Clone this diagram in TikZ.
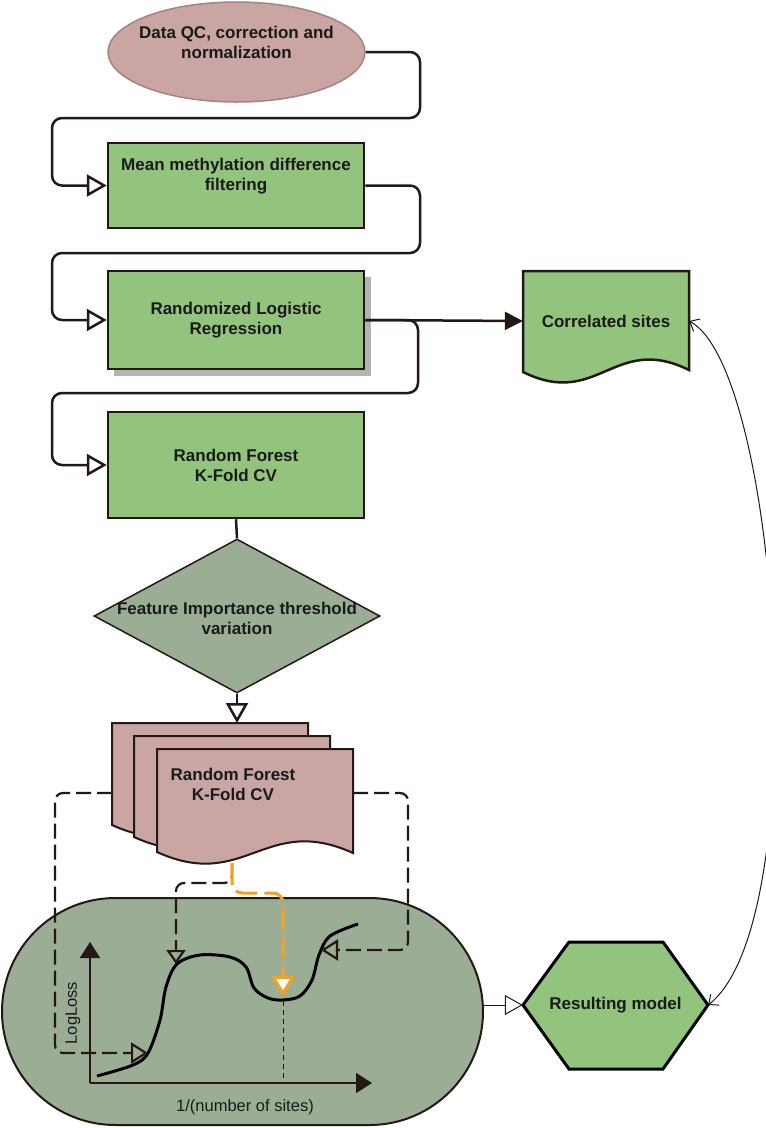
\documentclass[tikz,border=0pt]{standalone}
\usepackage{fontspec}
\setmainfont{Liberation Sans}
\usetikzlibrary{arrows.meta,shapes.geometric,shapes.misc}
\definecolor{lc}{HTML}{231815}
\definecolor{gfill}{HTML}{92C47D}
\definecolor{pfill}{HTML}{C9A5A3}
\definecolor{pline}{HTML}{A88280}
\definecolor{sfill}{HTML}{9CAD96}
\definecolor{orng}{HTML}{F5A01E}
\definecolor{shad}{HTML}{B4B4B4}
\definecolor{txt}{HTML}{1A1A1A}
\begin{document}
\begin{tikzpicture}[x=1pt,y=-1pt,
  lbl/.style={font=\fontsize{17}{20}\selectfont\bfseries, text=txt, align=center, inner sep=0pt},
  box/.style={lbl, draw=lc, line width=2.5pt, fill=gfill, rectangle, minimum width=256pt},
  conn/.style={draw=lc, line width=2.5pt, rounded corners=10pt, -{Triangle[open,length=20pt,width=22pt]}},
  docshape/.style={draw=lc, line width=2pt, fill=pfill},
  dashk/.style={draw=lc, line width=2.2pt, dash pattern=on 15pt off 6pt, rounded corners=8pt, -{Triangle[open,length=17pt,width=21pt]}},
  dasho/.style={draw=orng, line width=3pt, dash pattern=on 22pt off 7pt, rounded corners=10pt, -{Triangle[open,fill=white,length=20pt,width=24pt]}},
  axisline/.style={draw=lc, line width=2pt, -{Triangle[length=16pt,width=20pt]}},
  plain/.style={font=\fontsize{16.5}{18}\selectfont, text=txt, inner sep=0pt}
]
\useasboundingbox (0,0) rectangle (766,1128);

% ---- top ellipse
\node[ellipse, draw=pline, line width=1.5pt, fill=pfill, minimum width=257pt, minimum height=100pt, inner sep=0pt] (dqc) at (236.5,52) {};
\node[lbl] (dqct) at (236.5,42) {Data QC, correction and\\normalization};

% ---- boxes
\node[box, minimum height=85pt] (mmd) at (236,185.5) {};
\node[lbl] (mmdt) at (236,176) {Mean methylation difference\\filtering};

\fill[shad] (114,277) rectangle (371,376);
\node[box, minimum height=98pt] (rlr) at (236,320) {Randomized Logistic\\Regression};

\node[box, minimum height=106pt] (rf) at (236,465) {Random Forest\\K-Fold CV};

% ---- correlated sites (document)
\path[docshape, line width=2.5pt, fill=gfill] (523,271) -- (689,271) -- (689,370) .. controls (614,333) and (598,409) .. (523,372) -- cycle;
\node[lbl, minimum width=166pt, minimum height=100pt] (corr) at (606,321) {Correlated sites};

% ---- connectors on top part
\draw[conn] (dqc.east) -- (420,52) -- (420,118) -- (52,118) -- (52,185.5) -- (mmd.west);
\draw[conn] (mmd.east) -- (420,185.5) -- (420,253) -- (52,253) -- (52,320) -- (rlr.west);
\draw[conn] (rlr.east) -- (418,320) -- (418,393) -- (52,393) -- (52,465) -- (rf.west);
\draw[draw=lc, line width=2.5pt, -{Triangle[length=18pt,width=18pt]}] (rlr.east) -- (corr.west);

% ---- diamond
\node[diamond, draw=lc, line width=1.5pt, fill=sfill, minimum width=286pt, minimum height=154pt, inner sep=0pt] (fiv) at (237,616) {};
\node[lbl] (fivt) at (237,618) {Feature Importance threshold\\variation};
\draw[draw=lc, line width=2.5pt] (rf.south) -- (fiv.north);

% ---- stadium
\node[rounded rectangle, draw=lc, line width=2pt, fill=sfill, minimum width=481pt, minimum height=227pt, inner sep=0pt] (stad) at (242.5,1011.5) {};

% ---- stacked documents
\coordinate (dtop) at (237,723);
\path[docshape] (112,723) -- (308,723) -- (308,826) .. controls (220,786) and (200,865) .. (112,825) -- cycle;
\path[docshape] (134,736) -- (330,736) -- (330,838) .. controls (242,798) and (222,877) .. (134,837) -- cycle;
\path[docshape] (157,749) -- (353,749) -- (353,853) .. controls (265,813) and (245,892) .. (157,852) -- cycle;
\node[lbl] (rft) at (233,784) {Random Forest\\K-Fold CV};
\draw[conn] (fiv.south) -- (dtop);

\coordinate (bdl) at (112,793);
\coordinate (fdr) at (353,793);
\coordinate (fdb) at (232,863);

% ---- graph inside the stadium
\coordinate (org) at (90,1083);
\coordinate (t1) at (148,1053);
\coordinate (t2) at (176,964);
\coordinate (t3) at (283,996);
\coordinate (t4) at (321,950);
\draw[axisline] (org) -- (90,942);
\draw[axisline] (org) -- (372,1083);
\draw[draw=lc, line width=1pt, dash pattern=on 5pt off 4pt] (283,1001) -- (283,1083);
\draw[draw=black, line width=3pt] plot[smooth, tension=0.55] coordinates {(97,1076) (133,1065) (148,1053) (160,1020) (166,987) (177,964) (200,955) (230,957) (246,967) (254,988) (268,998) (283,1000) (300,996) (312,980) (319,955) (330,936) (358,924)};
\node[plain, rotate=90] (ll) at (73,1013) {LogLoss};
\node[plain] (xl) at (245,1107) {1/(number of sites)};

% ---- dashed connectors
\draw[dashk] (bdl) -- (55,793) -- (55,1053) -- (t1);
\draw[dashk] (fdr) -- (408,793) -- (408,950) -- (t4);
\draw[dashk, -{Triangle[open,length=14pt,width=19pt]}] (fdb) -- (232,883) -- (176,883) -- (t2);
\draw[dasho] (fdb) -- (232,893) -- (283,893) -- (t3);

% ---- resulting model
\path[draw=black, line width=3pt, fill=gfill] (523,1005) -- (569,942) -- (663,942) -- (708,1005) -- (663,1069) -- (569,1069) -- cycle;
\node[lbl, minimum width=185pt, minimum height=127pt] (hex) at (615.5,1005) {Resulting model};
\draw[draw=lc, line width=1pt, -{Triangle[open,length=18pt,width=20pt]}] (stad.east |- hex.west) -- (hex.west);

\draw[draw=lc, line width=1pt, {Straight Barb[length=8pt,width=14pt]}-{Straight Barb[length=8pt,width=14pt]}] (corr.east) .. controls (780,370) and (816,920) .. (hex.east);
\end{tikzpicture}
\end{document}
